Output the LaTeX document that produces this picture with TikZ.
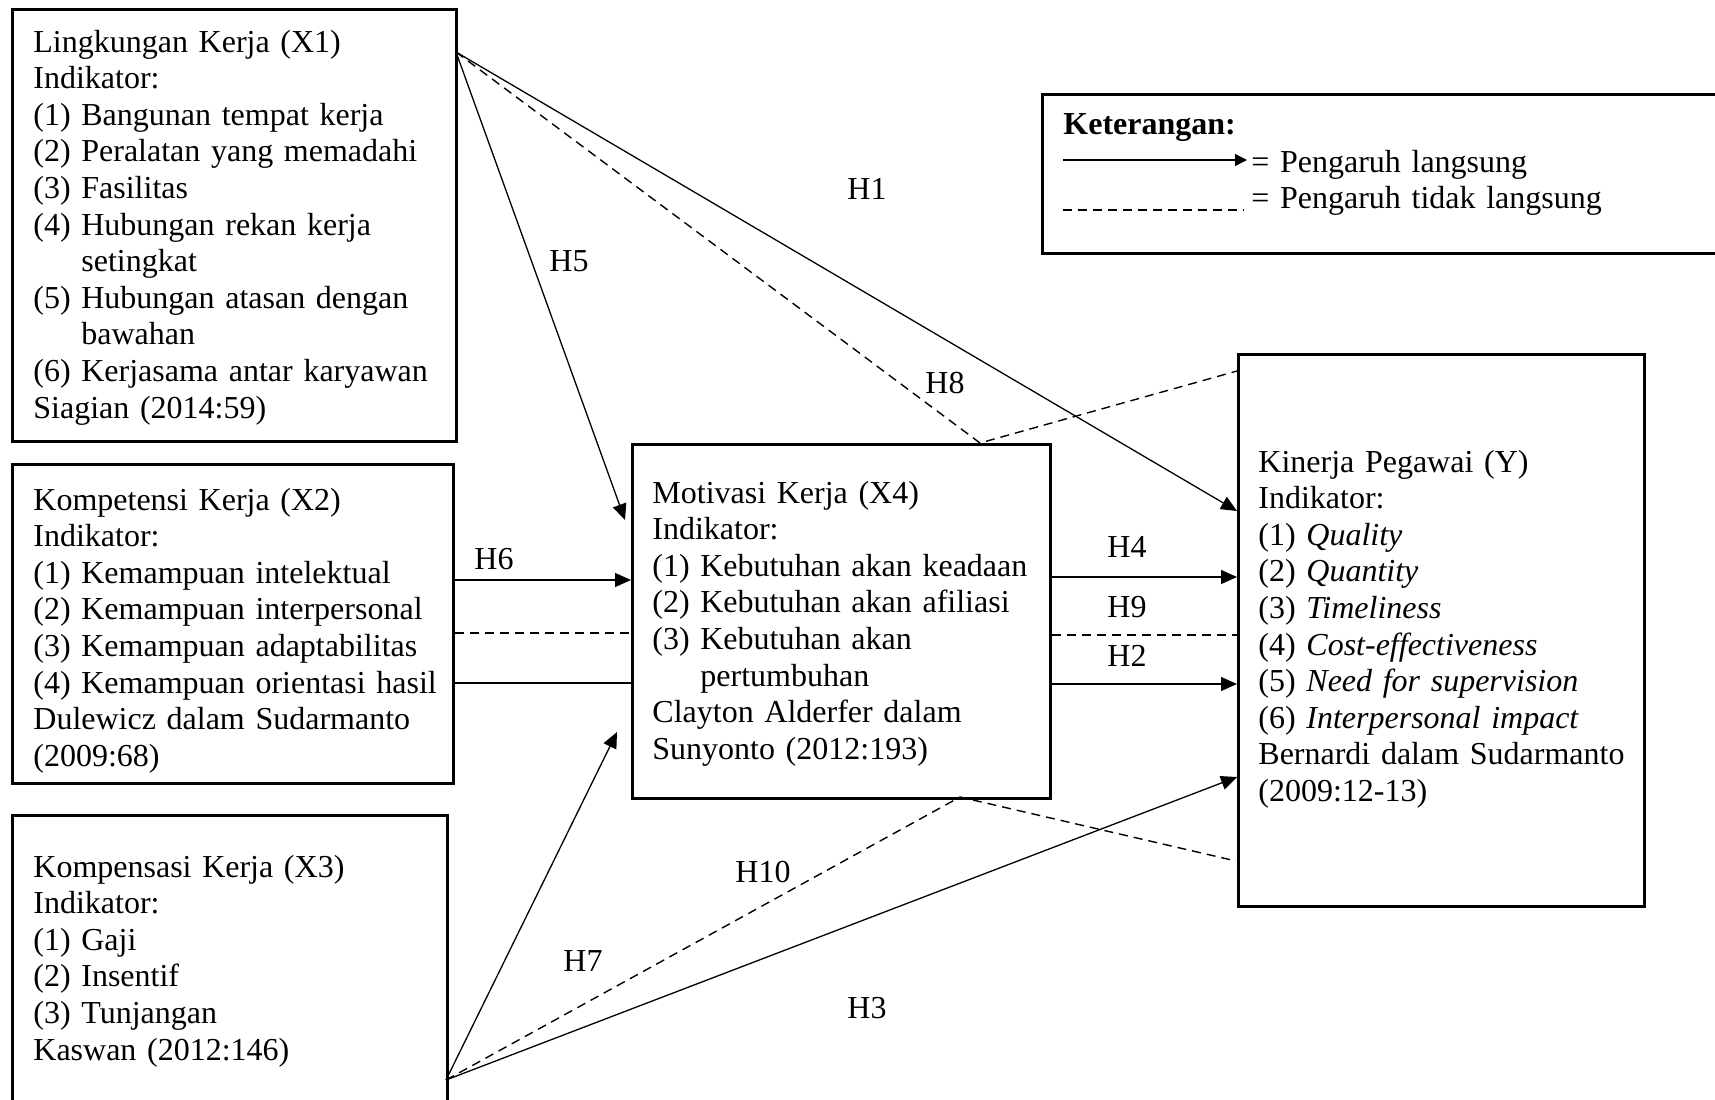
\documentclass[tikz,border=0pt]{standalone}
\usepackage{fontspec}
\setmainfont{Liberation Serif}
\usetikzlibrary{arrows.meta}
% numbered indicator line with a hanging indent
\newcommand{\itm}[2]{\makebox[24pt][l]{#1}#2}
\newcommand{\cont}[1]{\hspace*{24pt}#1}
\begin{document}
\begin{tikzpicture}[x=0.5pt,y=-0.5pt,
  box/.style={draw, line width=1.3pt, inner sep=0pt, anchor=north west},
  body/.style={anchor=base west, inner sep=0pt, text width=215pt, align=left,
    font=\fontsize{16}{18.3}\selectfont},
  hyp/.style={inner sep=0pt, font=\fontsize{16}{18.3}\selectfont},
  direct/.style={line width=0.65pt, -{Triangle[length=8pt,width=7pt]}},
  plain/.style={line width=0.65pt},
  indirect/.style={line width=0.7pt, dash pattern=on 4.5pt off 3pt}]

\useasboundingbox (0,0) rectangle (1715,1099);
\fill[white] (0,0) rectangle (1715,1099);
\clip (0,0) rectangle (1715,1099);

% variable boxes
\node[box, minimum width=222pt,   minimum height=216pt]   (x1)  at (11,8)    {};
\node[box, minimum width=220.5pt, minimum height=159.5pt] (x2)  at (11,463)  {};
\node[box, minimum width=217.5pt, minimum height=165pt]   (x3)  at (11,814)  {};
\node[box, minimum width=209pt,   minimum height=177pt]   (x4)  at (631,443) {};
\node[box, minimum width=203pt,   minimum height=276pt]   (y)   at (1237,353) {};
\node[box, minimum width=360pt,   minimum height=79.5pt]  (leg) at (1041,93) {};

% box contents
\node[body] (tx1) at (33,52) {Lingkungan Kerja (X1)\\
  Indikator:\\
  \itm{(1)}{Bangunan tempat kerja}\\
  \itm{(2)}{Peralatan yang memadahi}\\
  \itm{(3)}{Fasilitas}\\
  \itm{(4)}{Hubungan rekan kerja}\\
  \cont{setingkat}\\
  \itm{(5)}{Hubungan atasan dengan}\\
  \cont{bawahan}\\
  \itm{(6)}{Kerjasama antar karyawan}\\
  Siagian (2014:59)};

\node[body] (tx2) at (33,510) {Kompetensi Kerja (X2)\\
  Indikator:\\
  \itm{(1)}{Kemampuan intelektual}\\
  \itm{(2)}{Kemampuan interpersonal}\\
  \itm{(3)}{Kemampuan adaptabilitas}\\
  \itm{(4)}{Kemampuan orientasi hasil}\\
  Dulewicz dalam Sudarmanto\\
  (2009:68)};

\node[body] (tx3) at (33,877) {Kompensasi Kerja (X3)\\
  Indikator:\\
  \itm{(1)}{Gaji}\\
  \itm{(2)}{Insentif}\\
  \itm{(3)}{Tunjangan}\\
  Kaswan (2012:146)};

\node[body] (tx4) at (652,503) {Motivasi Kerja (X4)\\
  Indikator:\\
  \itm{(1)}{Kebutuhan akan keadaan}\\
  \itm{(2)}{Kebutuhan akan afiliasi}\\
  \itm{(3)}{Kebutuhan akan}\\
  \cont{pertumbuhan}\\
  Clayton Alderfer dalam\\
  Sunyonto (2012:193)};

\node[body] (ty) at (1258,472) {Kinerja Pegawai (Y)\\
  Indikator:\\
  \itm{(1)}{\textit{Quality}}\\
  \itm{(2)}{\textit{Quantity}}\\
  \itm{(3)}{\textit{Timeliness}}\\
  \itm{(4)}{\textit{Cost-effectiveness}}\\
  \itm{(5)}{\textit{Need for supervision}}\\
  \itm{(6)}{\textit{Interpersonal impact}}\\
  Bernardi dalam Sudarmanto\\
  (2009:12-13)};

% legend
\node[body] (ltitle) at (1063,134) {\textbf{Keterangan:}};
\coordinate (la) at (1063,160);
\coordinate (lb) at (1247,160);
\coordinate (lc) at (1063,210);
\coordinate (ld) at (1244,210);
\draw[line width=0.65pt, -{Triangle[length=6pt,width=6pt]}] (la) -- (lb);
\draw[indirect] (lc) -- (ld);
\node[body] (l1) at (1251,172) {= Pengaruh langsung};
\node[body] (l2) at (1251,208) {= Pengaruh tidak langsung};

% connection points
\coordinate (x1o) at (456,52);
\coordinate (x3o) at (446,1080);
\coordinate (x4a) at (625,520);
\coordinate (x4c) at (617,732);
\coordinate (x4t) at (980,443);
\coordinate (x4b) at (960,797);
\coordinate (ya)  at (1237,511);
\coordinate (yt)  at (1237,371);
\coordinate (yc)  at (1237,777);
\coordinate (yb)  at (1236,861);
\coordinate (r6)  at (0,580);
\coordinate (r6d) at (0,633);
\coordinate (r6s) at (0,683);
\coordinate (r4)  at (0,577);
\coordinate (r9)  at (0,635);
\coordinate (r2)  at (0,684);

% paths from X1
\draw[direct]   (x1o) -- (ya);
\draw[direct]   (x1o) -- (x4a);
\draw[indirect] (x1o) -- (x4t) -- (yt);

% paths from X2
\draw[direct]   (x2.east |- r6)  -- (x4.west |- r6);
\draw[indirect] (x2.east |- r6d) -- (x4.west |- r6d);
\draw[plain]    (x2.east |- r6s) -- (x4.west |- r6s);

% paths from X3
\draw[direct]   (x3o) -- (x4c);
\draw[indirect] (x3o) -- (x4b) -- (yb);
\draw[direct]   (x3o) -- (yc);

% paths from X4
\draw[direct]   (x4.east |- r4) -- (y.west |- r4);
\draw[indirect] (x4.east |- r9) -- (y.west |- r9);
\draw[direct]   (x4.east |- r2) -- (y.west |- r2);

% hypothesis labels
\node[hyp] (h1)  at (867,189)  {H1};
\node[hyp] (h5)  at (569,261)  {H5};
\node[hyp] (h8)  at (945,383)  {H8};
\node[hyp] (h6)  at (494,559)  {H6};
\node[hyp] (h4)  at (1127,547) {H4};
\node[hyp] (h9)  at (1127,607) {H9};
\node[hyp] (h2)  at (1127,656) {H2};
\node[hyp] (h10) at (763,872)  {H10};
\node[hyp] (h7)  at (583,961)  {H7};
\node[hyp] (h3)  at (867,1008) {H3};
\end{tikzpicture}
\end{document}
